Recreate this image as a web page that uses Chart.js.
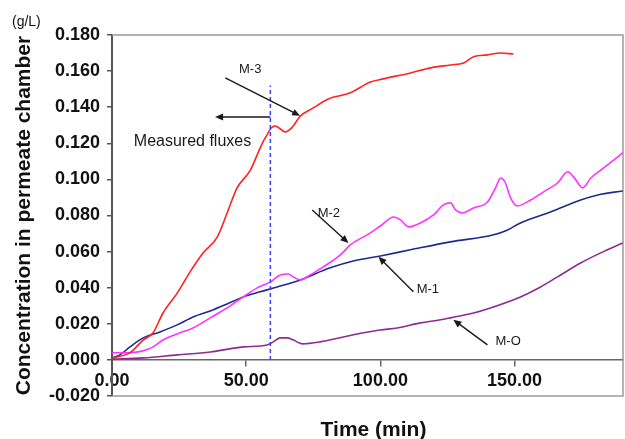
<!DOCTYPE html>
<html>
<head>
<meta charset="utf-8">
<script src="https://cdn.jsdelivr.net/npm/chart.js@4/dist/chart.umd.min.js"></script>
<style>
  html, body { margin: 0; padding: 0; background: #fff; }
  #wrap { width: 625px; height: 439px; }
</style>
</head>
<body>
<div id="wrap"><canvas id="chart"></canvas></div>
<script>
// permeate concentration (g/L) against time (min), one pair of arrays per membrane
const timeM3 = [0, 6.7, 11.6, 15.3, 19, 24.3, 29.1, 34, 39.2, 42.9, 46.6, 51.5, 56, 57.8, 59.3, 60.8, 64.6, 67.2, 70.1, 75, 80.6, 88.8, 96.3, 101.1, 111.2, 118.7, 126.1, 131, 134.7, 139.9, 144.8, 149.6];
const concM3 = [0.001, 0.004, 0.011, 0.015, 0.026, 0.037, 0.0488, 0.0593, 0.068, 0.0814, 0.0953, 0.105, 0.120, 0.1247, 0.1285, 0.1296, 0.1263, 0.129, 0.135, 0.1396, 0.1446, 0.148, 0.154, 0.1557, 0.159, 0.1618, 0.1634, 0.1645, 0.168, 0.169, 0.170, 0.1695];

const timeM2 = [0, 6.7, 11.6, 15.3, 19, 24.3, 30.2, 36.6, 42.9, 48.9, 54.1, 59, 62.7, 65.7, 67.5, 70.1, 73.9, 78.7, 85.1, 88.8, 96.3, 100, 104.9, 107.5, 110.4, 114.9, 119.8, 123.5, 126.1, 128, 130.6, 134.7, 139.9, 142.9, 144.8, 146.6, 148.5, 151.1, 156, 160.8, 166, 169.8, 172, 175.4, 178.4, 183.2, 190.7];
const concM2 = [0.004, 0.004, 0.005, 0.0072, 0.011, 0.0144, 0.0177, 0.0233, 0.0288, 0.0349, 0.0399, 0.0432, 0.0471, 0.0476, 0.046, 0.0443, 0.0471, 0.0515, 0.0582, 0.0637, 0.0704, 0.0742, 0.0792, 0.0776, 0.0737, 0.0759, 0.0803, 0.0859, 0.087, 0.0831, 0.0814, 0.0842, 0.0875, 0.0953, 0.1008, 0.098, 0.0898, 0.0853, 0.0886, 0.0931, 0.098, 0.1042, 0.1014, 0.0953, 0.1008, 0.1064, 0.1152];

const timeM1 = [0, 3, 6.7, 11.6, 17.9, 24.3, 30.2, 36.6, 42.9, 48.9, 55.2, 61.6, 70.1, 81.3, 89.9, 100, 111.2, 126.1, 142.2, 147.4, 152.2, 163.4, 174.6, 181, 190.3];
const concM1 = [0.001, 0.0028, 0.0072, 0.0122, 0.0155, 0.0194, 0.0238, 0.0271, 0.031, 0.0349, 0.0377, 0.0404, 0.0443, 0.051, 0.0548, 0.0576, 0.061, 0.0654, 0.0693, 0.072, 0.0759, 0.082, 0.0886, 0.0914, 0.0936];

const timeMO = [0, 11.6, 24.3, 36.6, 48.9, 57.8, 60.1, 62.7, 65.3, 67.5, 70.9, 77.6, 86.2, 93.7, 100, 106.3, 114.9, 122.4, 126.1, 134.7, 141, 152.2, 159.7, 166, 174.6, 182.1, 190.3];
const concMO = [0.0005, 0.0011, 0.0028, 0.0044, 0.0072, 0.0083, 0.01, 0.0122, 0.0122, 0.0111, 0.0089, 0.01, 0.0127, 0.015, 0.0166, 0.0177, 0.0205, 0.0222, 0.0233, 0.026, 0.0288, 0.0349, 0.0404, 0.046, 0.0537, 0.0593, 0.0648];

const xTicks = [0, 50, 100, 150];
const yTicks = [-0.02, 0, 0.02, 0.04, 0.06, 0.08, 0.1, 0.12, 0.14, 0.16, 0.18];

// end of the measured-flux window
const fluxTime = 59;
const fluxTop = 0.152;

// callout labels with their arrows (data units)
const calloutNames = ['M-3', 'M-2', 'M-1', 'M-O'];
const calloutText = [[51.5, 0.161], [80.8, 0.0814], [117.7, 0.0393], [147.6, 0.0105]];
const calloutFrom = [[42.2, 0.1562], [74.6, 0.0831], [112.3, 0.0377], [139.9, 0.0083]];
const calloutTo = [[70.1, 0.1352], [88.1, 0.0648], [99.3, 0.0571], [127.2, 0.0222]];

const fluxLabel = 'Measured fluxes';
const fluxLabelAt = [30.0, 0.1208];
const fluxArrow = [[59, 0.1346], [38.4, 0.1346]];

const FONT = "'Liberation Sans', Arial, sans-serif";
Chart.defaults.font.family = FONT;

function pairs(xs, ys) {
  return xs.map((x, i) => ({ x: x, y: ys[i] }));
}

function series(xs, ys, colour) {
  return {
    data: pairs(xs, ys),
    borderColor: colour,
    borderWidth: 1.6,
    pointRadius: 0,
    cubicInterpolationMode: 'monotone',
    fill: false
  };
}

function drawArrow(ctx, x0, y0, x1, y1) {
  const a = Math.atan2(y1 - y0, x1 - x0);
  const len = 8, half = 3.5;
  ctx.beginPath();
  ctx.moveTo(x0, y0);
  ctx.lineTo(x1 - len * 0.6 * Math.cos(a), y1 - len * 0.6 * Math.sin(a));
  ctx.stroke();
  ctx.beginPath();
  ctx.moveTo(x1, y1);
  ctx.lineTo(x1 - len * Math.cos(a) + half * Math.sin(a), y1 - len * Math.sin(a) - half * Math.cos(a));
  ctx.lineTo(x1 - len * Math.cos(a) - half * Math.sin(a), y1 - len * Math.sin(a) + half * Math.cos(a));
  ctx.closePath();
  ctx.fill();
}

// plot frame, callouts and the free-standing labels
const decorations = {
  id: 'decorations',
  beforeDatasetsDraw(chart) {
    const { ctx, chartArea: ca } = chart;
    ctx.save();
    ctx.strokeStyle = '#9a9a9a';
    ctx.lineWidth = 1.5;
    ctx.beginPath();
    ctx.moveTo(ca.left, ca.top);
    ctx.lineTo(ca.right, ca.top);
    ctx.lineTo(ca.right, ca.bottom);
    ctx.lineTo(ca.left, ca.bottom);
    ctx.stroke();
    ctx.restore();
  },
  afterDraw(chart) {
    const { ctx, chartArea: ca, scales: { x, y } } = chart;
    ctx.save();
    ctx.strokeStyle = '#1a1a1a';
    ctx.fillStyle = '#1a1a1a';
    ctx.lineWidth = 1.4;

    calloutNames.forEach((name, i) => {
      drawArrow(ctx,
        x.getPixelForValue(calloutFrom[i][0]), y.getPixelForValue(calloutFrom[i][1]),
        x.getPixelForValue(calloutTo[i][0]), y.getPixelForValue(calloutTo[i][1]));
    });
    drawArrow(ctx,
      x.getPixelForValue(fluxArrow[0][0]), y.getPixelForValue(fluxArrow[0][1]),
      x.getPixelForValue(fluxArrow[1][0]), y.getPixelForValue(fluxArrow[1][1]));

    ctx.textAlign = 'center';
    ctx.textBaseline = 'middle';
    ctx.font = '13px ' + FONT;
    calloutNames.forEach((name, i) => {
      ctx.fillText(name, x.getPixelForValue(calloutText[i][0]), y.getPixelForValue(calloutText[i][1]));
    });
    ctx.font = '16px ' + FONT;
    ctx.fillText(fluxLabel, x.getPixelForValue(fluxLabelAt[0]), y.getPixelForValue(fluxLabelAt[1]));

    // unit above the y axis and the time axis title under the plot
    ctx.fillStyle = '#111';
    ctx.textAlign = 'left';
    ctx.font = '14px ' + FONT;
    ctx.fillText('(g/L)', 12, 22);
    ctx.textAlign = 'center';
    ctx.font = 'bold 21px ' + FONT;
    ctx.fillText('Time (min)', (ca.left + ca.right) / 2 + 6, 430);
    ctx.restore();
  }
};

new Chart(document.getElementById('chart'), {
  type: 'line',
  data: {
    datasets: [
      {
        data: [{ x: fluxTime, y: 0 }, { x: fluxTime, y: fluxTop }],
        borderColor: '#3d3dff',
        borderWidth: 1.5,
        borderDash: [4, 3],
        pointRadius: 0
      },
      series(timeM3, concM3, '#ff2222'),
      series(timeM2, concM2, '#ff33ff'),
      series(timeM1, concM1, '#1f2a8f'),
      series(timeMO, concMO, '#8e2c8e')
    ]
  },
  options: {
    responsive: true,
    maintainAspectRatio: false,
    animation: false,
    layout: { padding: { left: 0, top: 35, right: 2, bottom: 43 } },
    plugins: {
      legend: { display: false },
      tooltip: { enabled: false }
    },
    scales: {
      x: {
        type: 'linear',
        position: { y: 0 },
        min: 0,
        max: 190.4,
        afterBuildTicks(scale) { scale.ticks = xTicks.map(v => ({ value: v })); },
        grid: { drawOnChartArea: false, tickLength: 6, color: '#666', lineWidth: 1.5 },
        border: { display: true, color: '#666', width: 1.5 },
        ticks: {
          color: '#111',
          padding: 4,
          maxRotation: 0,
          font: { size: 18, weight: 'bold' },
          callback: v => v.toFixed(2)
        }
      },
      y: {
        type: 'linear',
        min: -0.02,
        max: 0.18,
        afterFit(scale) { scale.width = 112; },
        afterBuildTicks(scale) { scale.ticks = yTicks.map(v => ({ value: v })); },
        grid: { drawOnChartArea: false, tickLength: 5, color: '#555', lineWidth: 1.5 },
        border: { display: true, color: '#555', width: 2 },
        ticks: {
          color: '#111',
          padding: 7,
          font: { size: 18, weight: 'bold' },
          callback: v => v.toFixed(3)
        },
        title: {
          display: true,
          text: 'Concentration in permeate chamber',
          color: '#111',
          padding: { top: 12, bottom: 0 },
          font: { size: 21, weight: 'bold' }
        }
      }
    }
  },
  plugins: [decorations]
});
</script>
</body>
</html>
